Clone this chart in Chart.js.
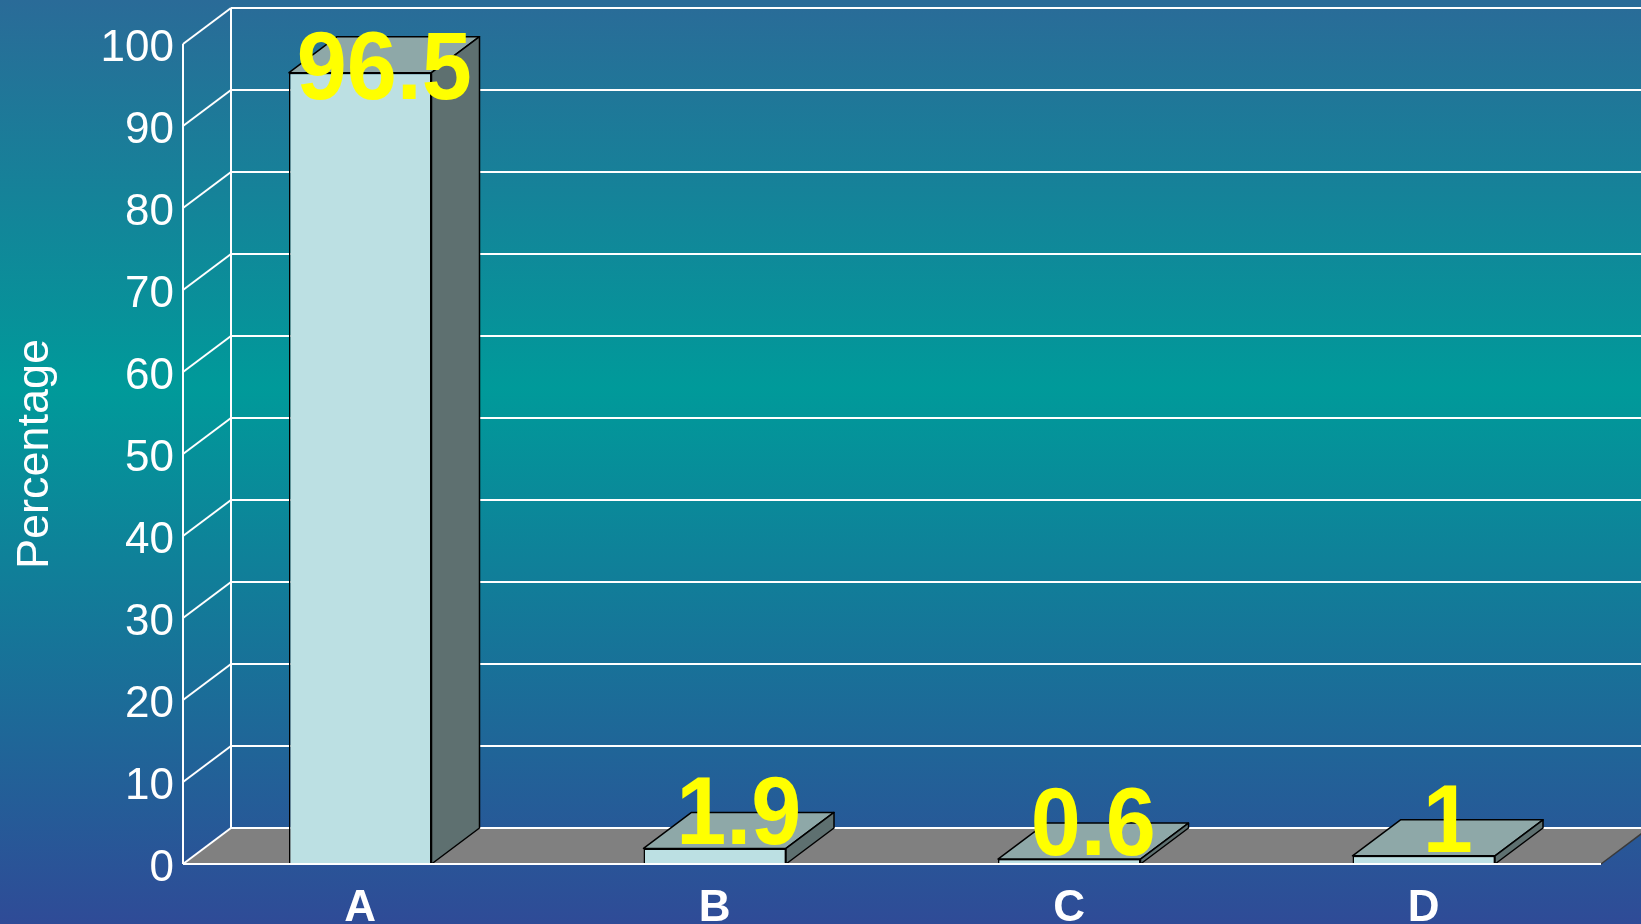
<!DOCTYPE html>
<html>
<head>
<meta charset="utf-8">
<script src="https://cdn.jsdelivr.net/npm/chart.js@4.4.1/dist/chart.umd.min.js"></script>
<style>
  html, body { margin: 0; padding: 0; overflow: hidden; }
  #wrap { width: 1641px; height: 924px; position: relative; }
</style>
</head>
<body>
<div id="wrap"><canvas id="c"></canvas></div>
<script>
// Share by category, in percent
const categories = ["A", "B", "C", "D"];
const percentages = [96.5, 1.9, 0.6, 1];
const yMin = 0;
const yMax = 100;
const yStep = 10;

// 3D look: how far the back wall sits behind the front plane
const DX = 48;
const DY = -36;
const FONT = "'Liberation Sans', Arial, sans-serif";

function poly(ctx, pts, fill, stroke, lw) {
  ctx.beginPath();
  ctx.moveTo(pts[0][0], pts[0][1]);
  for (let i = 1; i < pts.length; i++) ctx.lineTo(pts[i][0], pts[i][1]);
  ctx.closePath();
  if (fill) { ctx.fillStyle = fill; ctx.fill(); }
  if (stroke) { ctx.strokeStyle = stroke; ctx.lineWidth = lw || 1; ctx.stroke(); }
}

function line(ctx, x1, y1, x2, y2, color, lw) {
  ctx.beginPath();
  ctx.moveTo(x1, y1);
  ctx.lineTo(x2, y2);
  ctx.strokeStyle = color;
  ctx.lineWidth = lw;
  ctx.stroke();
}

const box3d = {
  id: "box3d",
  beforeDraw(chart) {
    const { ctx, width, height } = chart;
    const g = ctx.createLinearGradient(0, 0, 0, height);
    g.addColorStop(0, "#2a6b98");
    g.addColorStop(0.42, "#009a9a");
    g.addColorStop(1, "#2f4b97");
    ctx.save();
    ctx.fillStyle = g;
    ctx.fillRect(0, 0, width, height);
    ctx.restore();
  },
  beforeDatasetsDraw(chart) {
    const { ctx, chartArea: a, width } = chart;
    const ys = chart.scales.y;
    const base = ys.getPixelForValue(yMin);
    ctx.save();
    // floor
    poly(ctx, [[a.left, base], [a.right, base], [a.right + DX, base + DY], [a.left + DX, base + DY]], "#808080");
    line(ctx, a.right, base, a.right + DX, base + DY, "#3a3a3a", 1.5);
    // back wall grid and side wall ribs
    for (let v = yMin; v <= yMax; v += yStep) {
      const yf = ys.getPixelForValue(v);
      line(ctx, a.left + DX, yf + DY, width, yf + DY, "#ffffff", 2);
      line(ctx, a.left, yf, a.left + DX, yf + DY, "#ffffff", 2);
    }
    line(ctx, a.left + DX, ys.getPixelForValue(yMax) + DY, a.left + DX, base + DY, "#ffffff", 2);
    ctx.restore();
  },
  afterDatasetsDraw(chart) {
    const { ctx, chartArea: a } = chart;
    const ys = chart.scales.y;
    const meta = chart.getDatasetMeta(0);
    ctx.save();
    ctx.lineJoin = "round";
    meta.data.forEach((bar) => {
      const { x, y, base, width } = bar.getProps(["x", "y", "base", "width"], true);
      const l = x - width / 2, r = x + width / 2;
      poly(ctx, [[l, y], [r, y], [r + DX, y + DY], [l + DX, y + DY]], "#8ea8a8", "#000000", 1.5);
      poly(ctx, [[r, y], [r + DX, y + DY], [r + DX, base + DY], [r, base]], "#5e7070", "#000000", 1.5);
    });
    // front axes
    const base0 = ys.getPixelForValue(yMin);
    line(ctx, a.left, ys.getPixelForValue(yMax), a.left, base0, "#ffffff", 2);
    line(ctx, a.left, base0, a.right, base0, "#ffffff", 2);

    // value labels, slightly tall bold yellow
    ctx.fillStyle = "#ffff00";
    ctx.font = "bold 90px " + FONT;
    ctx.textAlign = "center";
    ctx.textBaseline = "alphabetic";
    meta.data.forEach((bar, i) => {
      const { x, y } = bar.getProps(["x", "y"], true);
      const baseline = Math.max(y - 4, 99);
      ctx.save();
      ctx.translate(x + DX / 2, baseline);
      ctx.scale(1, 1.08);
      ctx.fillText(String(percentages[i]), 0, 0);
      ctx.restore();
    });
    ctx.restore();
  }
};

new Chart(document.getElementById("c"), {
  type: "bar",
  data: {
    labels: categories,
    datasets: [{
      data: percentages,
      backgroundColor: "#bce0e3",
      borderColor: "#000000",
      borderWidth: 1.5,
      borderSkipped: "bottom",
      categoryPercentage: 1,
      barPercentage: 0.402
    }]
  },
  options: {
    responsive: true,
    maintainAspectRatio: false,
    animation: false,
    layout: { padding: { top: 44, right: 40, left: 0, bottom: 0 } },
    plugins: { legend: { display: false }, tooltip: { enabled: false } },
    scales: {
      x: {
        grid: { display: false, drawTicks: false },
        border: { display: false },
        ticks: { color: "#ffffff", font: { family: FONT, size: 44, weight: "bold" }, padding: 18 },
        afterFit(s) { s.height = 60; }
      },
      y: {
        min: yMin,
        max: yMax,
        grid: { display: false, drawTicks: false },
        border: { display: false },
        ticks: { stepSize: yStep, color: "#ffffff", font: { family: FONT, size: 44 }, padding: 9, labelOffset: 5 },
        title: { display: true, text: "Percentage", color: "#ffffff", font: { family: FONT, size: 45 }, padding: { top: 9, bottom: 0 } },
        afterFit(s) { s.width = 183; }
      }
    }
  },
  plugins: [box3d]
});
</script>
</body>
</html>
